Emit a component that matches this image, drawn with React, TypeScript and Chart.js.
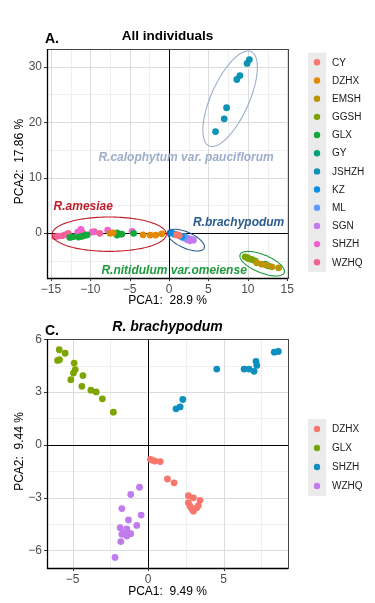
import React, { useEffect, useRef } from "react";
import { Chart, registerables } from "chart.js";

Chart.register(...registerables);

const FONT = '"Liberation Sans", Arial, Helvetica, sans-serif';
type Pt = [number, number];

// ---------------- Panel A : All individuals ----------------
const groupsA = ["CY", "DZHX", "EMSH", "GGSH", "GLX", "GY", "JSHZH", "KZ", "ML", "SGN", "SHZH", "WZHQ"];
const colorsA = ["#F8766D", "#E38900", "#BA9500", "#7AA500", "#13A83A", "#00A27A", "#0D93B8", "#0A8FE6", "#5C9BFF", "#C27BEF", "#F062D0", "#F2639A"];

const ptsA_CY: Pt[] = [[0.95, -0.3], [1.3, -0.45]];
const ptsA_DZHX: Pt[] = [[-7.5, -0.05], [-7.1, 0.05], [-3.3, -0.31], [-2.4, -0.36], [-1.7, -0.36], [-0.93, -0.13]];
const ptsA_EMSH: Pt[] = [[11.14, -5.36], [11.77, -5.6], [12.41, -5.79], [13.05, -6.09], [13.9, -6.27]];
const ptsA_GGSH: Pt[] = [[9.66, -4.28], [9.95, -4.45], [10.08, -4.58], [10.5, -4.76], [10.93, -5.0]];
const ptsA_GLX: Pt[] = [[-12.6, -0.78], [-12.2, -0.67], [-11.5, -0.72], [-11.1, -0.6], [-10.7, -0.42], [-10.4, -0.31], [-6.6, -0.36], [-6.6, 0.05], [-6.0, -0.18], [-4.5, -0.05]];
const ptsA_GY: Pt[] = [[12.2, -5.6], [12.6, -5.9]];
const ptsA_JSHZH: Pt[] = [[10.2, 31.3], [9.9, 30.6], [9.0, 28.4], [8.6, 27.7], [7.3, 22.6], [7.0, 20.6], [5.9, 18.3]];
const ptsA_KZ: Pt[] = [[0.13, 0.05], [0.47, -0.05], [0.76, -0.24], [1.19, -0.36], [1.6, -0.6]];
const ptsA_ML: Pt[] = [[1.4, -0.54], [2.03, -0.66], [1.8, -0.85]];
const ptsA_SGN: Pt[] = [[2.3, -1.2], [2.46, -0.96], [2.88, -1.14], [3.09, -1.27], [2.67, -1.39]];
const ptsA_SHZH: Pt[] = [[-11.6, 0.18], [-11.2, 0.67], [-9.8, 0.18], [-7.8, 0.54], [-4.7, 0.31]];
const ptsA_WZHQ: Pt[] = [[-14.5, -0.67], [-14.1, -0.54], [-13.6, -0.49], [-13.2, -0.31], [-12.8, -0.05], [-10.97, 0.05], [-9.5, 0.24], [-8.8, -0.05], [-6.1, -0.18]];
const seriesA: Pt[][] = [ptsA_CY, ptsA_DZHX, ptsA_EMSH, ptsA_GGSH, ptsA_GLX, ptsA_GY, ptsA_JSHZH, ptsA_KZ, ptsA_ML, ptsA_SGN, ptsA_SHZH, ptsA_WZHQ];

const xRangeA: Pt = [-15.5, 15.1];
const yRangeA: Pt = [-8.1, 33.2];
const xMajorA = [-15, -10, -5, 0, 5, 10, 15];
const xMinorA = [-12.5, -7.5, -2.5, 2.5, 7.5, 12.5];
const yMajorA = [0, 10, 20, 30];
const yMinorA = [-5, 5, 15, 25];

// species ellipses (centre and two semi-axis vectors, data units) + labels
const ellipseNamesA = ["R.calophytum var. pauciflorum", "R.amesiae", "R.brachypodum", "R.nitidulum var.omeiense"];
const ellipseColorsA = ["#9DAECB", "#BF1E2A", "#2A5B8C", "#1F9A3F"];
const ellipseCenterA: Pt[] = [[7.75, 24.23], [-7.6, -0.2], [2.16, -1.27], [11.82, -5.52]];
const ellipseAxisUA: Pt[] = [[2.67, 8.5], [7.25, 0], [2.29, -1.45], [2.8, -1.63]];
const ellipseAxisVA: Pt[] = [[2.2, -1.39], [0, 3.1], [-0.41, -1.32], [-0.43, -1.5]];
const labelPosA: Pt[] = [[2.16, 13.56], [-10.9, 4.7], [8.83, 1.8], [0.64, -6.87]];

// ---------------- Panel C : R. brachypodum ----------------
const groupsB = ["DZHX", "GLX", "SHZH", "WZHQ"];
const colorsB = ["#F8766D", "#7CA500", "#0E8FBF", "#C27BEF"];

const ptsB_DZHX: Pt[] = [[0.15, -0.82], [0.45, -0.92], [0.8, -0.95], [0.3, -0.88], [1.28, -1.94], [1.72, -2.16], [2.67, -2.88], [3.0, -3.01], [3.44, -3.15], [2.67, -3.29], [2.78, -3.49], [3.33, -3.45], [2.89, -3.63], [3.0, -3.77], [3.22, -3.58]];
const ptsB_GLX: Pt[] = [[-5.89, 5.41], [-5.5, 5.21], [-6.0, 4.8], [-5.87, 4.84], [-4.9, 4.65], [-4.83, 4.28], [-4.95, 4.08], [-5.12, 3.71], [-4.32, 3.94], [-4.39, 3.33], [-3.79, 3.11], [-3.44, 3.01], [-3.03, 2.62], [-2.3, 1.86]];
const ptsB_SHZH: Pt[] = [[1.85, 2.05], [2.12, 2.16], [2.3, 2.58], [4.55, 4.31], [6.36, 4.31], [6.69, 4.31], [7.02, 4.18], [7.15, 4.75], [7.2, 4.52], [8.36, 5.27], [8.63, 5.31]];
const ptsB_WZHQ: Pt[] = [[-0.57, -2.41], [-1.15, -2.82], [-1.74, -3.62], [-0.46, -3.99], [-1.3, -4.27], [-0.75, -4.58], [-1.85, -4.71], [-1.41, -4.77], [-1.59, -4.99], [-1.24, -5.05], [-1.74, -5.08], [-1.41, -5.18], [-1.15, -5.05], [-1.81, -5.5], [-2.19, -6.4]];
const seriesB: Pt[][] = [ptsB_DZHX, ptsB_GLX, ptsB_SHZH, ptsB_WZHQ];

const xRangeB: Pt = [-6.7, 9.27];
const yRangeB: Pt = [-7.0, 6.02];
const xMajorB = [-5, 0, 5];
const xMinorB = [-2.5, 2.5, 7.5];
const yMajorB = [-6, -3, 0, 3, 6];
const yMinorB = [-4.5, -1.5, 1.5, 4.5];

interface PanelCfg {
  id: string;
  tag: string;
  title: string;
  titleFont: string;
  titleBaseline: number;
  tagBaseline: number;
  xTitle: string;
  yTitle: string;
  xTitleY: number;
  groups: string[];
  colors: string[];
  series: Pt[][];
  xRange: Pt;
  yRange: Pt;
  xMajor: number[];
  xMinor: number[];
  yMajor: number[];
  yMinor: number[];
  ellNames: string[];
  ellColors: string[];
  ellCenter: Pt[];
  ellU: Pt[];
  ellV: Pt[];
  labelPos: Pt[];
  padTop: number;
  padBottom: number;
  height: number;
  legendStart: number;
  legendStep: number;
}

const panelA: PanelCfg = {
  id: "A", tag: "A.", title: "All individuals", titleFont: `bold 13.5px ${FONT}`,
  titleBaseline: 39.5, tagBaseline: 43,
  xTitle: "PCA1:  28.9 %", yTitle: "PCA2:  17.86 %", xTitleY: 301,
  groups: groupsA, colors: colorsA, series: seriesA,
  xRange: xRangeA, yRange: yRangeA, xMajor: xMajorA, xMinor: xMinorA, yMajor: yMajorA, yMinor: yMinorA,
  ellNames: ellipseNamesA, ellColors: ellipseColorsA, ellCenter: ellipseCenterA, ellU: ellipseAxisUA, ellV: ellipseAxisVA, labelPos: labelPosA,
  padTop: 49, padBottom: 12, height: 310, legendStart: 62.3, legendStep: 18.18,
};

const panelB: PanelCfg = {
  id: "C", tag: "C.", title: "R. brachypodum", titleFont: `italic bold 14px ${FONT}`,
  titleBaseline: 21, tagBaseline: 25,
  xTitle: "PCA1:  9.49 %", yTitle: "PCA2:  9.44 %", xTitleY: 282,
  groups: groupsB, colors: colorsB, series: seriesB,
  xRange: xRangeB, yRange: yRangeB, xMajor: xMajorB, xMinor: xMinorB, yMajor: yMajorB, yMinor: yMinorB,
  ellNames: [], ellColors: [], ellCenter: [], ellU: [], ellV: [], labelPos: [],
  padTop: 29, padBottom: 15, height: 293, legendStart: 119, legendStep: 19,
};

const fmt = (v: number) => (v < 0 ? "\u2212" + Math.abs(v) : String(v));
const crisp = (p: number) => Math.round(p) + 0.5;

function makeDecor(cfg: PanelCfg) {
  return {
    id: "decor" + cfg.id,
    beforeDatasetsDraw(chart: any) {
      const { ctx, chartArea: a, scales } = chart;
      const x = scales.x, y = scales.y;
      ctx.save();
      ctx.lineWidth = 1;
      const vline = (v: number, c: string) => {
        const px = crisp(x.getPixelForValue(v));
        ctx.strokeStyle = c;
        ctx.beginPath(); ctx.moveTo(px, a.top); ctx.lineTo(px, a.bottom); ctx.stroke();
      };
      const hline = (v: number, c: string) => {
        const py = crisp(y.getPixelForValue(v));
        ctx.strokeStyle = c;
        ctx.beginPath(); ctx.moveTo(a.left, py); ctx.lineTo(a.right, py); ctx.stroke();
      };
      cfg.xMinor.forEach((v) => vline(v, "#EFEFEF"));
      cfg.yMinor.forEach((v) => hline(v, "#EFEFEF"));
      cfg.xMajor.forEach((v) => vline(v, "#DCDCDC"));
      cfg.yMajor.forEach((v) => hline(v, "#DCDCDC"));
      vline(0, "#000000");
      hline(0, "#000000");
      ctx.restore();
    },
    afterDatasetsDraw(chart: any) {
      const { ctx, chartArea: a, scales } = chart;
      const x = scales.x, y = scales.y;
      ctx.save();
      // ellipses
      cfg.ellCenter.forEach((c, i) => {
        const u = cfg.ellU[i], v = cfg.ellV[i];
        ctx.strokeStyle = cfg.ellColors[i];
        ctx.lineWidth = 1.1;
        ctx.beginPath();
        for (let k = 0; k <= 120; k++) {
          const t = (k / 120) * Math.PI * 2;
          const dx = c[0] + u[0] * Math.cos(t) + v[0] * Math.sin(t);
          const dy = c[1] + u[1] * Math.cos(t) + v[1] * Math.sin(t);
          const px = x.getPixelForValue(dx), py = y.getPixelForValue(dy);
          if (k === 0) ctx.moveTo(px, py); else ctx.lineTo(px, py);
        }
        ctx.closePath();
        ctx.stroke();
      });
      // ellipse labels
      ctx.font = `italic bold 12px ${FONT}`;
      ctx.textAlign = "center";
      ctx.textBaseline = "middle";
      cfg.labelPos.forEach((p, i) => {
        ctx.fillStyle = cfg.ellColors[i];
        ctx.fillText(cfg.ellNames[i], x.getPixelForValue(p[0]), y.getPixelForValue(p[1]));
      });
      // panel border
      ctx.lineWidth = 1;
      ctx.strokeStyle = "#444444";
      ctx.strokeRect(crisp(a.left), crisp(a.top), Math.round(a.right - a.left), Math.round(a.bottom - a.top));
      ctx.strokeStyle = "#000000";
      ctx.lineWidth = 1.3;
      ctx.beginPath();
      ctx.moveTo(crisp(a.left), a.top); ctx.lineTo(crisp(a.left), crisp(a.bottom)); ctx.lineTo(a.right, crisp(a.bottom));
      ctx.stroke();
      // tick marks
      ctx.lineWidth = 1;
      ctx.strokeStyle = "#333333";
      cfg.xMajor.forEach((v) => {
        const px = crisp(x.getPixelForValue(v));
        ctx.beginPath(); ctx.moveTo(px, a.bottom); ctx.lineTo(px, a.bottom + 3); ctx.stroke();
      });
      cfg.yMajor.forEach((v) => {
        const py = crisp(y.getPixelForValue(v));
        ctx.beginPath(); ctx.moveTo(a.left, py); ctx.lineTo(a.left - 3, py); ctx.stroke();
      });
      // titles
      ctx.fillStyle = "#000000";
      ctx.textBaseline = "alphabetic";
      ctx.textAlign = "left";
      ctx.font = `bold 14px ${FONT}`;
      ctx.fillText(cfg.tag, 45, cfg.tagBaseline);
      ctx.textAlign = "center";
      ctx.font = cfg.titleFont;
      ctx.fillText(cfg.title, (a.left + a.right) / 2, cfg.titleBaseline);
      // axis titles
      ctx.font = `12px ${FONT}`;
      ctx.textBaseline = "middle";
      ctx.fillText(cfg.xTitle, (a.left + a.right) / 2, cfg.xTitleY);
      ctx.save();
      ctx.translate(20, (a.top + a.bottom) / 2 - 2);
      ctx.rotate(-Math.PI / 2);
      ctx.fillText(cfg.yTitle, 0, 0);
      ctx.restore();
      // legend
      const n = cfg.groups.length;
      const s = cfg.legendStep;
      ctx.fillStyle = "#EBEBEB";
      ctx.fillRect(308, cfg.legendStart - s / 2 - 0.5, 18, (n - 1) * s + s + 1);
      ctx.font = `10px ${FONT}`;
      ctx.textAlign = "left";
      ctx.textBaseline = "middle";
      cfg.groups.forEach((g, i) => {
        const cy = cfg.legendStart + i * s;
        ctx.fillStyle = cfg.colors[i];
        ctx.beginPath(); ctx.arc(317, cy, 3.2, 0, Math.PI * 2); ctx.fill();
        ctx.fillStyle = "#1A1A1A";
        ctx.fillText(g, 332, cy + 0.5);
      });
      ctx.restore();
    },
  };
}

function Panel({ cfg, top }: { cfg: PanelCfg; top: number }) {
  const ref = useRef<HTMLCanvasElement>(null);
  useEffect(() => {
    const canvas = ref.current;
    if (!canvas) return;
    const tickFont = { family: FONT, size: 12 };
    const chart = new Chart(canvas, {
      type: "scatter",
      data: {
        datasets: cfg.series.map((pts, i) => ({
          label: cfg.groups[i],
          data: pts.map(([px, py]) => ({ x: px, y: py })),
          backgroundColor: cfg.colors[i],
          borderWidth: 0,
          pointRadius: 3.4,
          pointHoverRadius: 3.4,
        })),
      },
      options: {
        animation: false,
        responsive: false,
        devicePixelRatio: 1,
        events: [],
        layout: { padding: { top: cfg.padTop, left: 0, right: 87, bottom: cfg.padBottom } },
        plugins: { legend: { display: false }, tooltip: { enabled: false }, title: { display: false } },
        scales: {
          x: {
            type: "linear",
            min: cfg.xRange[0],
            max: cfg.xRange[1],
            afterBuildTicks: (s: any) => { s.ticks = cfg.xMajor.map((v) => ({ value: v })); },
            afterFit: (s: any) => { s.height = 20; },
            grid: { display: false, drawTicks: true, tickLength: 3 },
            border: { display: false },
            ticks: { callback: (v: any) => fmt(Number(v)), font: tickFont, color: "#4D4D4D", padding: 1, maxRotation: 0, autoSkip: false },
          },
          y: {
            type: "linear",
            min: cfg.yRange[0],
            max: cfg.yRange[1],
            afterBuildTicks: (s: any) => { s.ticks = cfg.yMajor.map((v) => ({ value: v })); },
            afterFit: (s: any) => { s.width = 47; },
            grid: { display: false, drawTicks: true, tickLength: 3 },
            border: { display: false },
            ticks: { callback: (v: any) => fmt(Number(v)), font: tickFont, color: "#4D4D4D", padding: 2, autoSkip: false },
          },
        },
      } as any,
      plugins: [makeDecor(cfg)],
    });
    return () => chart.destroy();
  }, [cfg]);
  return (
    <canvas
      ref={ref}
      width={375}
      height={cfg.height}
      style={{ position: "absolute", left: 0, top, width: 375, height: cfg.height, display: "block" }}
    />
  );
}

export default function App() {
  return (
    <div style={{ position: "fixed", left: 0, top: 0, width: 375, height: 603, background: "#ffffff", overflow: "hidden" }}>
      <Panel cfg={panelA} top={0} />
      <Panel cfg={panelB} top={310} />
    </div>
  );
}
